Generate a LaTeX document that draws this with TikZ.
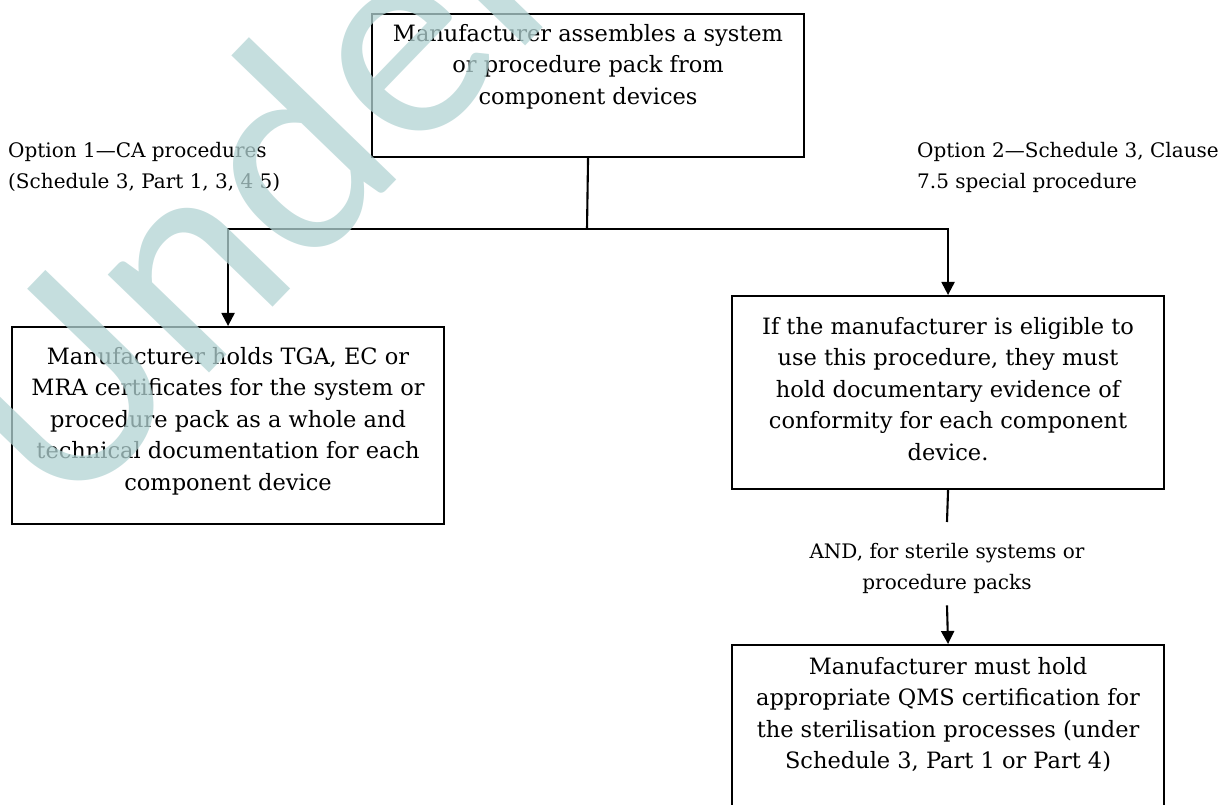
\documentclass[tikz,border=0pt]{standalone}
\usepackage{fontspec}
\setmainfont{DejaVu Serif}
\newfontfamily\wmfont{Carlito}
\usetikzlibrary{arrows.meta}

% text sizes / line spacing (box text and free labels)
\newcommand\bodyfont{\fontsize{22.5}{31.6}\selectfont}
\newcommand\labelfont{\fontsize{20}{31.6}\selectfont}
% fixed-size text block: width, height, first-baseline offset, format, text
\newcommand\tblock[5]{\parbox[c][#2pt][t]{#1pt}{#4\rule{0pt}{#3pt}#5}}

\definecolor{wmteal}{RGB}{178,211,211}

\begin{document}
\begin{tikzpicture}[x=1pt,y=-1pt,
  box/.style={draw, line width=2.1pt, inner sep=0pt, anchor=north west},
  lbl/.style={inner sep=0pt, anchor=north west},
  link/.style={line width=2.1pt},
  arr/.style={link, -{Triangle[length=13pt,width=13pt]}},
]
\useasboundingbox (0,0) rectangle (1227,805);
\clip (0,0) rectangle (1227,805);

% boxes
\node[box] (top) at (371,13)
  {\tblock{432}{143}{27}{\centering\bodyfont}{Manufacturer assembles a system\\or procedure pack from\\component devices}};
\node[box] (left) at (11,326)
  {\tblock{432}{197}{37}{\centering\bodyfont}{Manufacturer holds TGA, EC or\\MRA certificates for the system or\\procedure pack as a whole and\\technical documentation for each\\component device}};
\node[box] (right) at (731,295)
  {\tblock{432}{193}{38}{\centering\bodyfont}{If the manufacturer is eligible to\\use this procedure, they must\\hold documentary evidence of\\conformity for each component\\device.}};
\node[box] (bottom) at (731,644)
  {\tblock{432}{175}{29}{\centering\bodyfont}{Manufacturer must hold\\appropriate QMS certification for\\the sterilisation processes (under\\Schedule 3, Part 1 or Part 4)}};

% option labels
\node[lbl] (opt1) at (8,138)
  {\tblock{320}{60}{19}{\raggedright\labelfont}{Option 1—CA procedures\\(Schedule 3, Part 1, 3, 4 5)}};
\node[lbl] (opt2) at (917,138)
  {\tblock{310}{60}{19}{\raggedright\labelfont}{Option 2—Schedule 3, Clause\\7.5 special procedure}};

% condition label between the right-hand boxes
\node[lbl, anchor=north] (andlbl) at (947,522)
  {\tblock{400}{83}{36}{\centering\labelfont}{AND, for sterile systems or\\procedure packs}};

% connectors
\coordinate (split) at (587,229);
\draw[link] (top.south) -- (split);
\draw[arr] (split) -| (left.north);
\draw[arr] (split) -| (right.north);
\draw[link] (right.south) -- (andlbl.north);
\draw[arr] (andlbl.south) -- (bottom.north);

% watermark
\node[inner sep=0pt, anchor=base west, rotate=46, text=wmteal, opacity=0.75,
      font=\wmfont\fontsize{295}{295}\selectfont] (wm) at (64,524) {Under};
\end{tikzpicture}
\end{document}
